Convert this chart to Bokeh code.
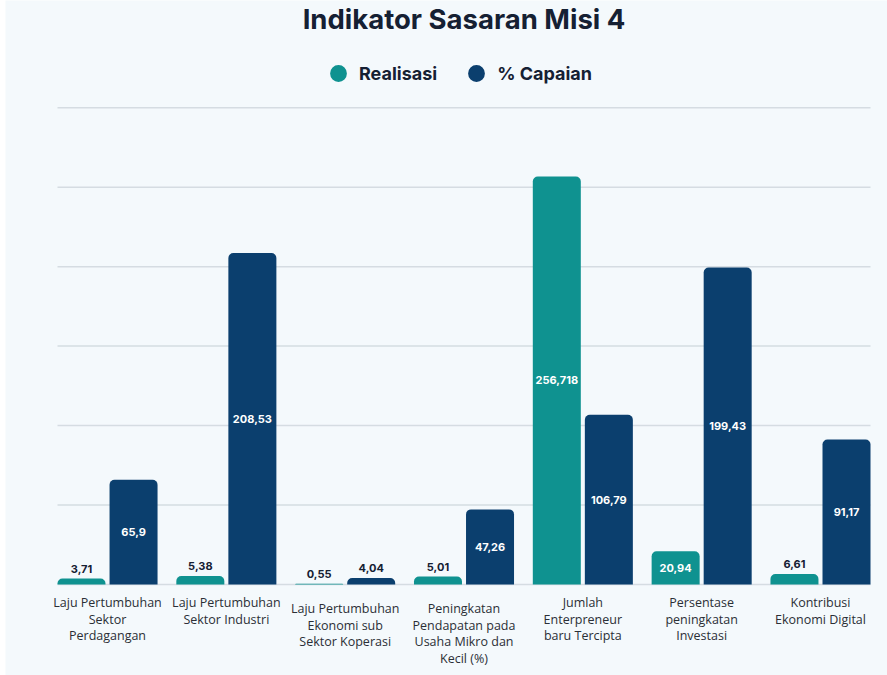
from bokeh.plotting import figure
from bokeh.layouts import row
from bokeh.models import ColumnDataSource, Label, LabelSet, Legend, LegendItem, Range1d, Spacer
from bokeh.core.properties import value
from bokeh.embed import file_html
from bokeh.resources import INLINE

# ---- data ----
categories = [
    "Laju Pertumbuhan\nSektor\nPerdagangan",
    "Laju Pertumbuhan\nSektor Industri",
    "Laju Pertumbuhan\nEkonomi sub\nSektor Koperasi",
    "Peningkatan\nPendapatan pada\nUsaha Mikro dan\nKecil (%)",
    "Jumlah\nEnterpreneur\nbaru Tercipta",
    "Persentase\npeningkatan\nInvestasi",
    "Kontribusi\nEkonomi Digital",
]
realisasi = [3.71, 5.38, 0.55, 5.01, 256.718, 20.94, 6.61]
capaian = [65.9, 208.53, 4.04, 47.26, 106.79, 199.43, 91.17]
grid_ticks = [0, 50, 100, 150, 200, 250, 300]

# ---- style / layout ----
TEAL = "#0f9290"
NAVY = "#0b3f6e"
BG = "#f4f9fc"
DARK = "#152033"
OX = 5                            # white page strip at the left
W, H = 887 - OX, 675
PX_PER_UNIT = 476.8 / 300.0       # vertical scale
PX_PER_CAT = 118.8                # horizontal px per category
BASE_Y = 584                      # page y of zero line
PLOT_L, PLOT_R = 57, 870          # page x extent of plotting area (grid lines)
label_drop = [0, 0, 6, 6, 0, 0, 0]  # extra px drop for some category labels
LINE_PX = 16.7


def py(page_y):
    """page pixel y -> data y"""
    return (BASE_Y - page_y) / PX_PER_UNIT


n = len(categories)
xs = list(range(n))
off = 0.219
bw = 0.404
pad = 50 / PX_PER_CAT             # half group width past the outer bars
x_lo, x_hi = -pad, n - 1 + pad    # data extent of the plotting area

p = figure(width=W, height=H, output_backend="svg", toolbar_location=None,
           title=None, x_axis_type=None, y_axis_type=None,
           x_range=Range1d(x_lo - (PLOT_L - OX) / PX_PER_CAT, x_hi + (887 - PLOT_R) / PX_PER_CAT),
           y_range=Range1d(py(675), py(0)),
           min_border=0,
           background_fill_color=BG, border_fill_color=BG,
           outline_line_color=None)

# horizontal grid lines restricted to the plotting area
p.segment(x0=[x_lo] * len(grid_ticks), x1=[x_hi] * len(grid_ticks),
          y0=grid_ticks, y1=grid_ticks, line_color="#d5dce2", line_width=1.5)

src = ColumnDataSource(dict(
    xr=[x - off for x in xs], xc=[x + off for x in xs],
    realisasi=realisasi, capaian=capaian))
p.vbar(x="xr", top="realisasi", bottom=0, width=bw, source=src,
       fill_color=TEAL, line_color=None, border_radius=(5, 5, 0, 0))
p.vbar(x="xc", top="capaian", bottom=0, width=bw, source=src,
       fill_color=NAVY, line_color=None, border_radius=(5, 5, 0, 0))

# value labels
lx, ly, lt, lc, lo = [], [], [], [], []
for xpos, vals in ((src.data["xr"], realisasi), (src.data["xc"], capaian)):
    for x, v in zip(xpos, vals):
        lx.append(x)
        lt.append(str(v).replace(".", ","))
        if v > 15:
            ly.append(v / 2.0); lc.append("#ffffff"); lo.append(0)
        else:
            ly.append(v); lc.append(DARK); lo.append(-10)
p.text(x=lx, y=ly, text=lt, text_color=lc, y_offset=lo,
       text_align="center", text_baseline="middle",
       text_font=value("Inter"), text_font_style="bold", text_font_size="11px")

# category labels, one entry per line
cx, cy, ct = [], [], []
for i, cat in enumerate(categories):
    for j, line in enumerate(cat.split("\n")):
        cx.append(xs[i])
        cy.append(py(602 + label_drop[i] + j * LINE_PX))
        ct.append(line)
cat_src = ColumnDataSource(dict(x=cx, y=cy, text=ct))
p.add_layout(LabelSet(x="x", y="y", text="text", source=cat_src,
                      text_align="center", text_baseline="middle",
                      text_font=value("Open Sans"), text_font_size="12.5px",
                      text_color="#2b2f36"))

# title
p.add_layout(Label(x=(n - 1) / 2.0, y=py(18), text="Indikator Sasaran Misi 4",
                   text_align="center", text_baseline="alphabetic",
                   text_font="Inter", text_font_style="bold", text_font_size="27.5px",
                   text_color=DARK))

# legend
nan = float("nan")
r1 = p.scatter(x=[nan], y=[nan], marker="circle", fill_color=TEAL, line_color=None)
r2 = p.scatter(x=[nan], y=[nan], marker="circle", fill_color=NAVY, line_color=None)
legend = Legend(items=[LegendItem(label="Realisasi", renderers=[r1]),
                       LegendItem(label="% Capaian", renderers=[r2])],
                orientation="horizontal",
                location=(338 - 21 - OX, H - (73 + 21)),
                glyph_width=42, glyph_height=42, label_standoff=-4, spacing=18,
                padding=0, margin=0, background_fill_alpha=0,
                border_line_color=None,
                label_text_font="Inter", label_text_font_style="bold",
                label_text_font_size="18px", label_text_color=DARK)
p.add_layout(legend)

layout = row(Spacer(width=OX), p, spacing=0)
open("out.html", "w").write(file_html(layout, INLINE))
